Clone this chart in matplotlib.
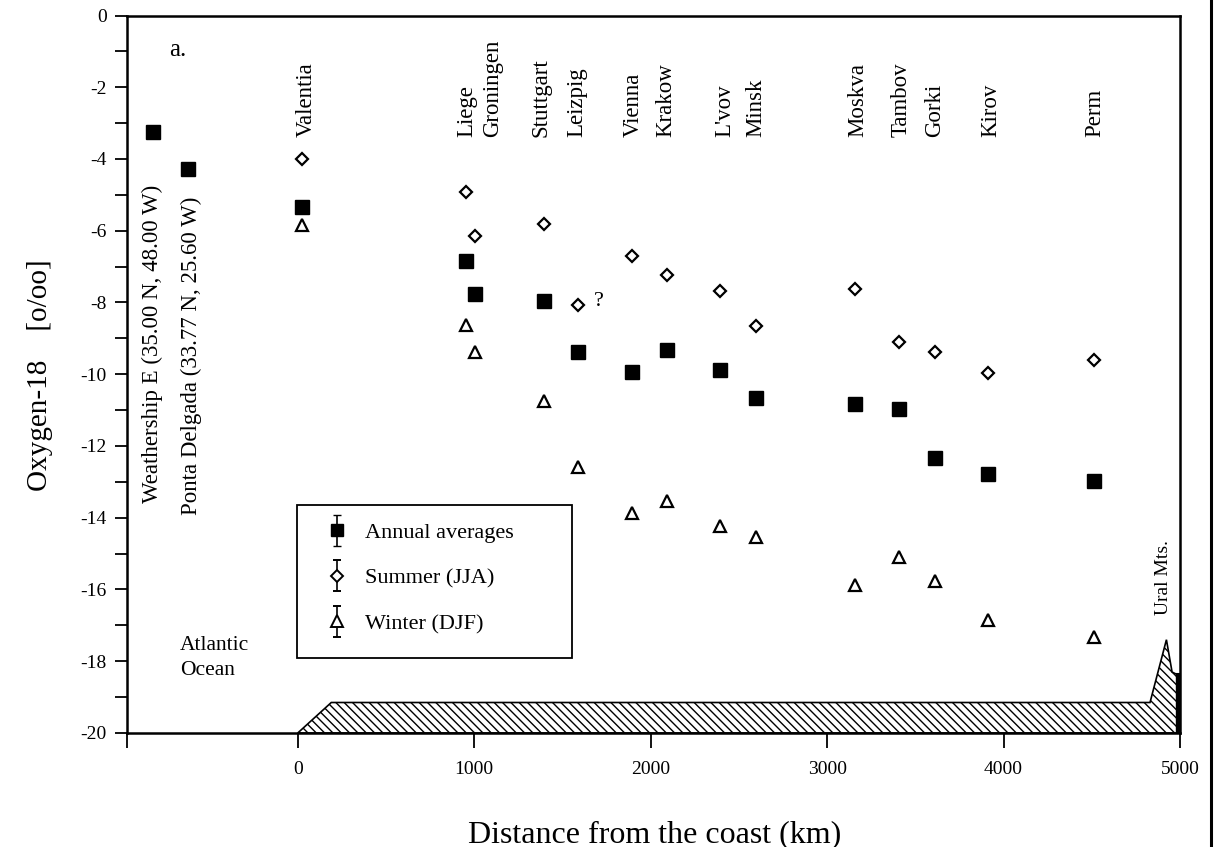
import numpy as np
import matplotlib
matplotlib.use('Agg')
import matplotlib.pyplot as plt
from matplotlib.patches import Polygon, Rectangle
from matplotlib.lines import Line2D
from matplotlib.legend_handler import HandlerErrorbar

plt.rcParams['font.family'] = ['Liberation Serif', 'DejaVu Serif']
plt.rcParams['axes.unicode_minus'] = False
plt.rcParams['hatch.linewidth'] = 1.0

# continental stations: distance from the coast (km) and delta-18O (o/oo)
stations = ['Valentia', 'Liege', 'Groningen', 'Stuttgart', 'Leizpig', 'Vienna', 'Krakow',
            "L'vov", 'Minsk', 'Moskva', 'Tambov', 'Gorki', 'Kirov', 'Perm']
dist = [25, 951, 1004, 1395, 1590, 1893, 2091, 2394, 2599, 3158, 3410, 3611, 3914, 4512]
label_dist = [48, 959, 1106, 1378, 1582, 1900, 2087, 2421, 2597, 3175, 3419, 3611, 3929, 4519]
annual = [-5.33, -6.84, -7.75, -7.97, -9.39, -9.93, -9.32, -9.89, -10.67, -10.84, -10.96,
          -12.33, -12.79, -12.98]
summer = [-4.01, -4.91, -6.14, -5.81, -8.07, -6.70, -7.23, -7.69, -8.65, -7.63, -9.10,
          -9.39, -9.97, -9.60]
winter = [-5.84, -8.63, -9.39, -10.75, -12.58, -13.86, -13.54, -14.24, -14.53, -15.87,
          -15.09, -15.77, -16.86, -17.33]

# ocean stations (annual only)
ocean_names = ['Weathership E (35.00 N, 48.00 W)', 'Ponta Delgada (33.77 N, 25.60 W)']
ocean_dist = [-820, -624]
ocean_label_dist = [-824, -605]
ocean_label_y = [-13.58, -13.91]
ocean_annual = [-3.25, -4.27]

# land profile along the transect
land_x = [0, 190, 4830, 4923, 4955, 4975, 5000, 5000]
land_y = [-20, -19.15, -19.15, -17.4, -18.3, -18.35, -18.35, -20]

fig = plt.figure(figsize=(12.14, 8.47), dpi=100)
ax = fig.add_axes([0.105, 0.1346, 0.867, 0.8471])

land = Polygon(np.column_stack([land_x, land_y]), closed=True, facecolor='white',
               edgecolor='black', hatch='\\\\\\\\', lw=1.2, zorder=1)
ax.add_patch(land)
ax.fill_between([4975, 5000], -20, -18.35, color='black', zorder=2)

ax.plot(dist, summer, 'D', ms=6.5, mfc='white', mec='black', mew=1.6, zorder=3)
ax.plot(dist, winter, '^', ms=9, mfc='white', mec='black', mew=1.6, zorder=3)
ax.plot(dist, annual, 's', ms=10, color='black', zorder=3)
ax.plot(ocean_dist, ocean_annual, 's', ms=10, color='black', zorder=3)

for name, x in zip(stations, label_dist):
    ax.text(x, -3.38, name, rotation=90, ha='center', va='bottom', fontsize=16.5)
for name, x, y in zip(ocean_names, ocean_label_dist, ocean_label_y):
    ax.text(x, y, name, rotation=90, ha='center', va='bottom', fontsize=16.5)

ax.text(-679, -0.96, 'a.', ha='center', va='center', fontsize=18)
ax.text(1707, -7.98, '?', ha='center', va='center', fontsize=16)
ax.text(-668, -17.3, 'Atlantic\nOcean', ha='left', va='top', fontsize=15.5, linespacing=1.45)
ax.text(4904, -16.7, 'Ural Mts.', rotation=90, ha='center', va='bottom', fontsize=14)

# legend proxies with error bars
h1 = ax.errorbar([np.nan], [np.nan], yerr=[1], fmt='s', ms=9, color='black', capsize=3,
                 elinewidth=1.2, label='Annual averages')
h2 = ax.errorbar([np.nan], [np.nan], yerr=[1], fmt='D', ms=6, mfc='white', mec='black',
                 mew=1.4, ecolor='black', capsize=3, elinewidth=1.2, label='Summer (JJA)')
h3 = ax.errorbar([np.nan], [np.nan], yerr=[1], fmt='^', ms=8, mfc='white', mec='black',
                 mew=1.4, ecolor='black', capsize=3, elinewidth=1.2, label='Winter (DJF)')
leg = ax.legend(handles=[h1, h2, h3], loc='upper left', bbox_to_anchor=(0.1927, 0.2933),
                borderaxespad=0, borderpad=0, fontsize=16, frameon=False,
                handlelength=0.6, handletextpad=0.96, labelspacing=1.12,
                handler_map={type(h1): HandlerErrorbar(yerr_size=0.7)})
ax.add_patch(Rectangle((0.161, 0.1045), 0.2613, 0.2135, transform=ax.transAxes,
                       fill=False, edgecolor='black', lw=1.3, zorder=4))

ax.set_xlim(-965, 5000)
ax.set_ylim(-20, 0)
ax.set_xticks([-965, 0, 1000, 2000, 3000, 4000, 5000])
ax.set_xticklabels(['', '0', '1000', '2000', '3000', '4000', '5000'])
ax.set_yticks(np.arange(-20, 1, 2))
ax.set_yticks(np.arange(-19, 0, 2), minor=True)
ax.tick_params(axis='x', direction='out', length=11, width=1.3, pad=9, labelsize=14)
ax.tick_params(axis='y', which='both', direction='out', length=9, width=1.3, pad=6,
               labelsize=14)
for s in ax.spines.values():
    s.set_linewidth(1.8)

fig.text(40 / 1214, 1 - 375 / 847, 'Oxygen-18    [o/oo]', rotation=90, ha='center',
         va='center', fontsize=21)
fig.text(655 / 1214, 1 - 820 / 847, 'Distance from the coast (km)', ha='center', va='top',
         fontsize=23)

# scan border on the right
fig.add_artist(Line2D([1211 / 1214, 1211 / 1214], [0, 1], color='black', lw=2.2,
                      transform=fig.transFigure))

fig.savefig('out.png', dpi=100)
